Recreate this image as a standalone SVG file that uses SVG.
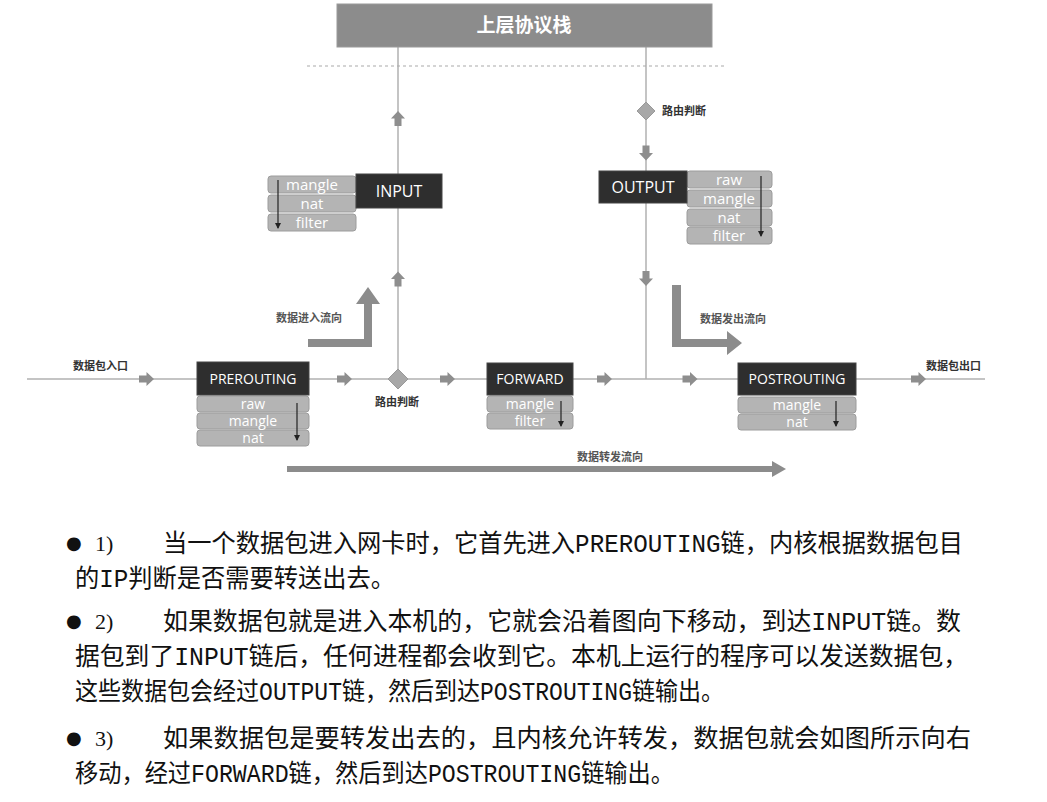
<svg xmlns="http://www.w3.org/2000/svg" width="1047" height="802" viewBox="0 0 1047 802">
<style>
.line{stroke:#b0b0b0;stroke-width:1.5;fill:none}
.chain{fill:#2e2e2e;stroke:#444;stroke-width:1}
.chaintxt{font-family:"Open Sans","Liberation Sans",sans-serif;fill:#fff;text-anchor:middle}
.tbl{fill:#b4b4b4;stroke:#9c9c9c;stroke-width:1}
.tbltxt{font-family:"Open Sans","Liberation Sans",sans-serif;font-size:15px;fill:#fff;text-anchor:middle}
.tbls{font-family:"Open Sans","Liberation Sans",sans-serif;font-size:14px;fill:#fff;text-anchor:middle}
.tarrow{stroke:#222;stroke-width:1.2;fill:none;marker-end:url(#tri)}
.lbl{font-family:"Noto Sans CJK SC","Liberation Sans",sans-serif;font-size:11px;font-weight:bold;fill:#333}
.flow{font-family:"Noto Sans CJK SC","Liberation Sans",sans-serif;font-size:11px;font-weight:bold;fill:#555}
.big{fill:#8c8c8c}
.body{font-family:"Liberation Mono","Noto Sans CJK SC",monospace;font-size:25px;fill:#111}
.num{font-family:"Liberation Serif","Noto Sans CJK SC",serif;font-size:22px;fill:#111}
.bul{font-family:"DejaVu Sans",sans-serif;font-size:18px;fill:#111}
</style>
<defs>
<marker id="tri" markerWidth="6" markerHeight="6" refX="5" refY="3" orient="auto" markerUnits="userSpaceOnUse" viewBox="0 0 6 6">
<path d="M0,0 L6,3 L0,6 Z" fill="#222"/>
</marker>
<path id="sa" d="M-7.5,-3.5 H0 V-7 L7.5,0 L0,7 V3.5 H-7.5 Z" fill="#8e8e8e"/>
</defs>
<rect width="1047" height="802" fill="#fff"/>

<g id="connectors">
<line class="line" x1="27" y1="379" x2="985" y2="379"/>
<line class="line" x1="398" y1="47" x2="398" y2="370"/>
<line class="line" x1="646" y1="47" x2="646" y2="379"/>
<line x1="307" y1="66" x2="727" y2="66" stroke="#aaa" stroke-width="1.2" stroke-dasharray="3,3"/>
<use href="#sa" transform="translate(146.5,379)"/>
<use href="#sa" transform="translate(344.5,379)"/>
<use href="#sa" transform="translate(447.5,379)"/>
<use href="#sa" transform="translate(604.5,379)"/>
<use href="#sa" transform="translate(690,379)"/>
<use href="#sa" transform="translate(918.5,379)"/>
<use href="#sa" transform="translate(398,118.5) rotate(-90)"/>
<use href="#sa" transform="translate(398,279) rotate(-90)"/>
<use href="#sa" transform="translate(646,153) rotate(90)"/>
<use href="#sa" transform="translate(646,278.5) rotate(90)"/>
<polygon class="big" points="308,339 364,339 364,304 356,304 368,287 380,304 372,304 372,347 308,347"/>
<polygon class="big" points="672,285 681,285 681,339 727,339 727,331 742,343 727,355 727,347 672,347"/>
<polygon class="big" points="287,466 772,466 772,461 786,469 772,477 772,472 287,472"/>
</g>

<g id="upper-stack">
<rect x="337" y="4" width="375" height="43" fill="#8c8c8c" stroke="#9a9a9a"/>
<text x="524" y="32" font-family="Noto Sans CJK SC,sans-serif" font-size="19" font-weight="bold" fill="#fff" text-anchor="middle">上层协议栈</text>
</g>

<g id="route-top">
<polygon points="646,102 655,111 646,120 637,111" fill="#a8a8a8" stroke="#999"/>
<text class="lbl" x="662" y="115">路由判断</text>
</g>

<g id="route-bottom">
<polygon points="398,369 408,379 398,389 388,379" fill="#a8a8a8" stroke="#999"/>
<text class="lbl" x="397" y="406" text-anchor="middle">路由判断</text>
</g>

<g id="input">
<rect class="tbl" x="268" y="176" width="88" height="17" rx="3"/>
<rect class="tbl" x="268" y="195" width="88" height="17" rx="3"/>
<rect class="tbl" x="268" y="214" width="88" height="17" rx="3"/>
<text class="tbltxt" x="312" y="190">mangle</text>
<text class="tbltxt" x="312" y="209">nat</text>
<text class="tbltxt" x="312" y="228">filter</text>
<line class="tarrow" x1="278" y1="180" x2="278" y2="228"/>
<rect class="chain" x="356" y="174" width="86" height="34"/>
<text class="chaintxt" x="399" y="197" font-size="16">INPUT</text>
</g>

<g id="output">
<rect class="tbl" x="687" y="171" width="85" height="17" rx="3"/>
<rect class="tbl" x="687" y="190" width="85" height="17" rx="3"/>
<rect class="tbl" x="687" y="209" width="85" height="17" rx="3"/>
<rect class="tbl" x="687" y="227" width="85" height="17" rx="3"/>
<text class="tbltxt" x="729" y="185">raw</text>
<text class="tbltxt" x="729" y="204">mangle</text>
<text class="tbltxt" x="729" y="223">nat</text>
<text class="tbltxt" x="729" y="241">filter</text>
<line class="tarrow" x1="761" y1="176" x2="761" y2="236"/>
<rect class="chain" x="599" y="171" width="88" height="32"/>
<text class="chaintxt" x="643" y="193" font-size="16">OUTPUT</text>
</g>

<g id="prerouting">
<rect class="tbl" x="197" y="396" width="112" height="16" rx="3"/>
<rect class="tbl" x="197" y="413" width="112" height="16" rx="3"/>
<rect class="tbl" x="197" y="430" width="112" height="16" rx="3"/>
<text class="tbls" x="253" y="409">raw</text>
<text class="tbls" x="253" y="426">mangle</text>
<text class="tbls" x="253" y="443">nat</text>
<line class="tarrow" x1="297" y1="403" x2="297" y2="440"/>
<rect class="chain" x="197" y="362" width="112" height="33"/>
<text class="chaintxt" x="253" y="384" font-size="14">PREROUTING</text>
</g>

<g id="forward">
<rect class="tbl" x="487" y="396" width="86" height="16" rx="3"/>
<rect class="tbl" x="487" y="413" width="86" height="16" rx="3"/>
<text class="tbls" x="530" y="408.5">mangle</text>
<text class="tbls" x="530" y="426">filter</text>
<line class="tarrow" x1="561" y1="401" x2="561" y2="426"/>
<rect class="chain" x="487" y="363" width="86" height="32"/>
<text class="chaintxt" x="530" y="384" font-size="14">FORWARD</text>
</g>

<g id="postrouting">
<rect class="tbl" x="738" y="397" width="118" height="16" rx="3"/>
<rect class="tbl" x="738" y="414" width="118" height="16" rx="3"/>
<text class="tbls" x="797" y="409.5">mangle</text>
<text class="tbls" x="797" y="427">nat</text>
<line class="tarrow" x1="836" y1="401" x2="836" y2="426"/>
<rect class="chain" x="738" y="363" width="118" height="32"/>
<text class="chaintxt" x="797" y="384" font-size="14">POSTROUTING</text>
</g>

<g id="labels">
<text class="lbl" x="73" y="370">数据包入口</text>
<text class="lbl" x="926" y="370">数据包出口</text>
<text class="flow" x="276" y="322">数据进入流向</text>
<text class="flow" x="700" y="323">数据发出流向</text>
<text class="flow" x="577" y="461">数据转发流向</text>
</g>

<g id="description">
<text class="bul" x="66" y="549">●</text>
<text class="num" x="95" y="551">1)</text>
<text class="body" x="163" y="552" textLength="800" lengthAdjust="spacingAndGlyphs">当一个数据包进入网卡时，它首先进入PREROUTING链，内核根据数据包目</text>
<text class="body" x="75" y="587" textLength="320" lengthAdjust="spacingAndGlyphs">的IP判断是否需要转送出去。</text>
<text class="bul" x="66" y="627">●</text>
<text class="num" x="95" y="629">2)</text>
<text class="body" x="163" y="630" textLength="798" lengthAdjust="spacingAndGlyphs">如果数据包就是进入本机的，它就会沿着图向下移动，到达INPUT链。数</text>
<text class="body" x="75" y="665" textLength="893" lengthAdjust="spacingAndGlyphs">据包到了INPUT链后，任何进程都会收到它。本机上运行的程序可以发送数据包，</text>
<text class="body" x="75" y="700" textLength="649" lengthAdjust="spacingAndGlyphs">这些数据包会经过OUTPUT链，然后到达POSTROUTING链输出。</text>
<text class="bul" x="66" y="744">●</text>
<text class="num" x="95" y="746">3)</text>
<text class="body" x="163" y="747" textLength="808" lengthAdjust="spacingAndGlyphs">如果数据包是要转发出去的，且内核允许转发，数据包就会如图所示向右</text>
<text class="body" x="75" y="782" textLength="599" lengthAdjust="spacingAndGlyphs">移动，经过FORWARD链，然后到达POSTROUTING链输出。</text>
</g>
</svg>
